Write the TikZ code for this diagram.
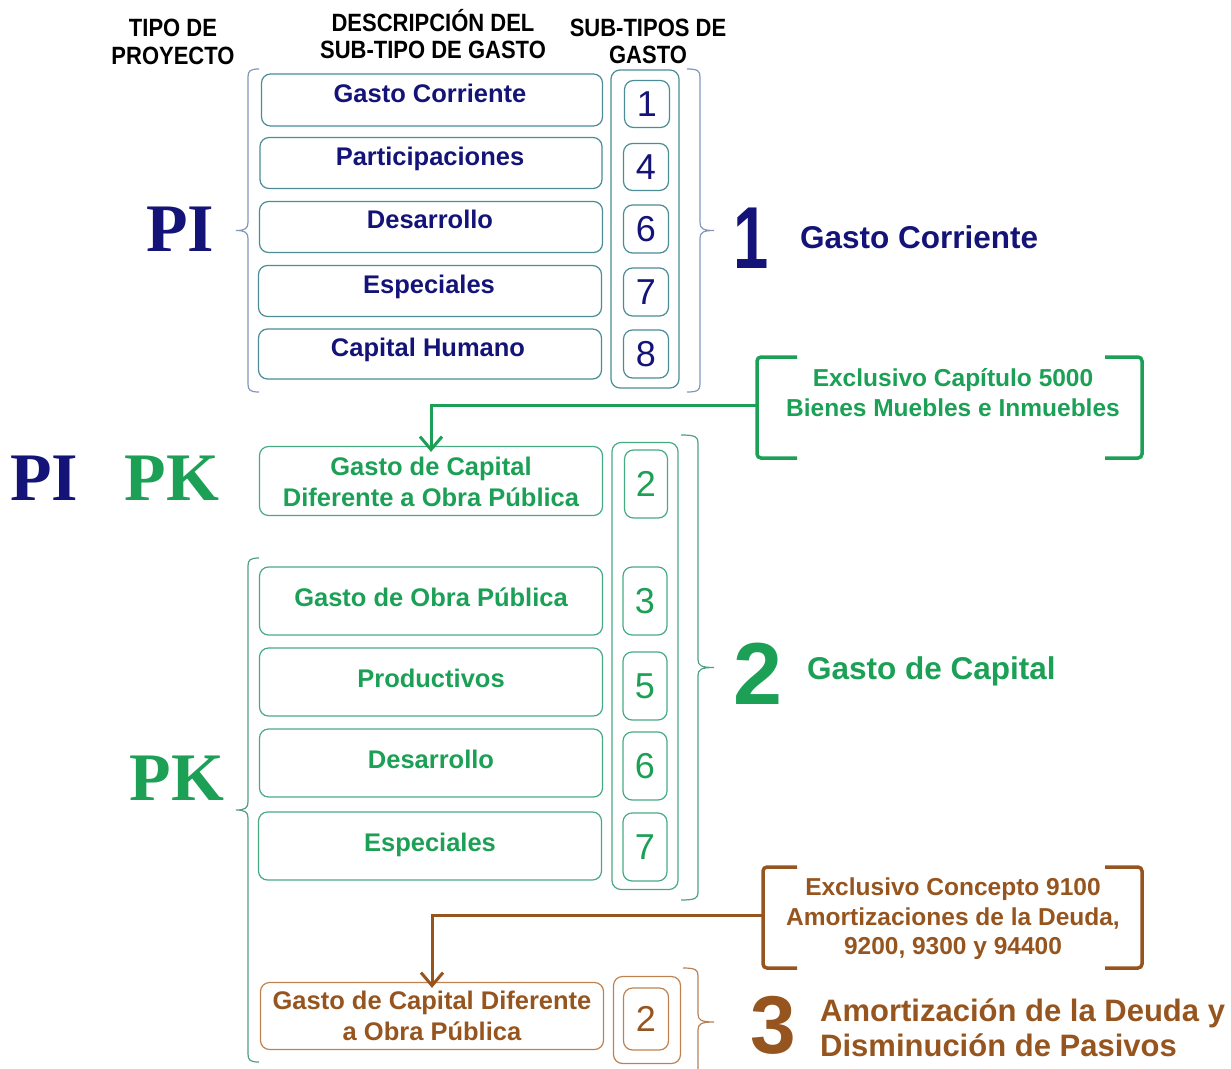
\documentclass[tikz,border=0pt]{standalone}
\usepackage{fontspec}
\setmainfont{Liberation Sans}
\newfontfamily\serifb{Liberation Serif}
\newfontfamily\hdrfam[FakeStretch=0.88]{Liberation Sans}
\newfontfamily\onefam[FakeStretch=0.72]{Liberation Sans}
\usetikzlibrary{decorations.pathreplacing,arrows.meta}
\definecolor{navy}{RGB}{20,20,120}
\definecolor{gr}{RGB}{27,160,86}
\definecolor{br}{RGB}{150,85,30}
\definecolor{tealb}{RGB}{75,140,150}
\definecolor{pibr}{RGB}{130,150,190}
\definecolor{grb}{RGB}{70,170,130}
\definecolor{grbr}{RGB}{80,160,130}
\definecolor{brb}{RGB}{190,130,80}
\definecolor{brbr}{RGB}{180,130,90}
% left-pointing brace: colour, hook x, line x, tip x, top y, bottom y
\newcommand\mybraceL[6]{%
 \draw[#1, line width=1.2pt] (#2,#5) .. controls ({#3+2},#5) and (#3,{#5+2}) .. (#3,{#5+8})
   -- (#3,{(#5+#6)/2-8}) .. controls (#3,{(#5+#6)/2-2}) and ({#3-3},{(#5+#6)/2}) .. (#4,{(#5+#6)/2})
   .. controls ({#3-3},{(#5+#6)/2}) and (#3,{(#5+#6)/2+2}) .. (#3,{(#5+#6)/2+8})
   -- (#3,{#6-8}) .. controls (#3,{#6-2}) and ({#3+2},#6) .. (#2,#6);}
% right-pointing brace
\newcommand\mybraceR[6]{%
 \draw[#1, line width=1.2pt] (#2,#5) .. controls ({#3-2},#5) and (#3,{#5+2}) .. (#3,{#5+8})
   -- (#3,{(#5+#6)/2-8}) .. controls (#3,{(#5+#6)/2-2}) and ({#3+3},{(#5+#6)/2}) .. (#4,{(#5+#6)/2})
   .. controls ({#3+3},{(#5+#6)/2}) and (#3,{(#5+#6)/2+2}) .. (#3,{(#5+#6)/2+8})
   -- (#3,{#6-8}) .. controls (#3,{#6-2}) and ({#3-2},#6) .. (#2,#6);}
\begin{document}
\begin{tikzpicture}[x=1pt,y=-1pt,
  box/.style={draw=#1, rounded corners=9pt, line width=1.2pt, inner sep=0pt},
  hdr/.style={inner sep=0pt, text height=18pt, text depth=0pt, font=\hdrfam\bfseries\fontsize{25}{30}\selectfont},
  bt/.style={inner sep=0pt, text height=18.3pt, text depth=0pt, font=\bfseries\fontsize{25.5}{30}\selectfont},
  num/.style={inner sep=0pt, text height=25.8pt, text depth=0pt, font=\fontsize{36}{40}\selectfont},
  big/.style={inner sep=0pt, text height=63pt, text depth=0pt, font=\bfseries\fontsize{88}{90}\selectfont},
  side/.style={inner sep=0pt, text height=22.5pt, text depth=0pt, anchor=west, font=\bfseries\fontsize{31.5}{36}\selectfont},
  ct/.style={inner sep=0pt, text height=17.5pt, text depth=0pt, font=\bfseries\fontsize{24.5}{28}\selectfont},
  ser/.style={inner sep=0pt, text height=45pt, text depth=0pt, font=\serifb\bfseries\fontsize{68}{70}\selectfont},
  callb/.style={draw=#1, line width=3.5pt, rounded corners=4pt},
  arr/.style={draw=#1, line width=3pt, -{Straight Barb[length=13pt,width=22pt,line width=3pt]}},
]
\useasboundingbox (0,0) rectangle (1231,1068);

% headers
\node[hdr] (h1a) at (173,27) {TIPO DE};
\node[hdr] (h1b) at (173,55) {PROYECTO};
\node[hdr] (h2a) at (433,22) {DESCRIPCIÓN DEL};
\node[hdr] (h2b) at (433,49) {SUB-TIPO DE GASTO};
\node[hdr] (h3a) at (648,27) {SUB-TIPOS DE};
\node[hdr] (h3b) at (648,54) {GASTO};

% ---------- PI section ----------
\node[ser, text=navy] (pi1) at (180,229) {PI};
\mybraceL{pibr}{259}{248}{236}{69}{392}
\mybraceR{pibr}{687}{700}{714}{69}{392}

\node[box=tealb, minimum width=341pt, minimum height=52pt] (pb1) at (432,100) {};
\node[box=tealb, minimum width=342pt, minimum height=51pt] (pb2) at (431,163) {};
\node[box=tealb, minimum width=343pt, minimum height=51pt] (pb3) at (431,227) {};
\node[box=tealb, minimum width=343pt, minimum height=51pt] (pb4) at (430,291) {};
\node[box=tealb, minimum width=343pt, minimum height=50pt] (pb5) at (430,354) {};
\node[bt, text=navy] (pt1) at (430,93) {Gasto Corriente};
\node[bt, text=navy] (pt2) at (430,156) {Participaciones};
\node[bt, text=navy] (pt3) at (430,219) {Desarrollo};
\node[bt, text=navy] (pt4) at (429,284) {Especiales};
\node[bt, text=navy] (pt5) at (428,347) {Capital Humano};

\node[box=tealb, minimum width=68pt, minimum height=318pt] (pcol) at (645,229) {};
\node[box=tealb, minimum width=45pt, minimum height=47pt, num, text=navy] (pn1) at (647,104) {1};
\node[box=tealb, minimum width=45pt, minimum height=47pt, num, text=navy] (pn4) at (646,167) {4};
\node[box=tealb, minimum width=45pt, minimum height=48pt, num, text=navy] (pn6) at (646,229) {6};
\node[box=tealb, minimum width=45pt, minimum height=48pt, num, text=navy] (pn7) at (646,292) {7};
\node[box=tealb, minimum width=45pt, minimum height=48pt, num, text=navy] (pn8) at (646,354) {8};

\node[big, text=navy, font=\onefam\bfseries\fontsize{88}{90}\selectfont] (b1) at (751,237) {1};
\node[side, text=navy] (s1) at (800,237) {Gasto Corriente};

% ---------- green callout ----------
\draw[callb=gr] (797,357) -- (757,357) -- (757,458) -- (797,458);
\draw[callb=gr] (1105,357) -- (1142,357) -- (1142,458) -- (1105,458);
\node[ct, text=gr] (gc1) at (953,378) {Exclusivo Capítulo 5000};
\node[ct, text=gr] (gc2) at (953,408) {Bienes Muebles e Inmuebles};
\coordinate (gca) at (757,405);

% ---------- PK section ----------
\node[ser, text=navy] (pi2) at (44,478) {PI};
\node[ser, text=gr] (pk1) at (172,478) {PK};
\node[ser, text=gr] (pk2) at (177,778) {PK};

\node[box=grb, minimum width=343pt, minimum height=69pt] (gb0) at (431,481) {};
\node[bt, text=gr] (gt0a) at (431,466) {Gasto de Capital};
\node[bt, text=gr] (gt0b) at (431,497) {Diferente a Obra Pública};
\draw[arr=gr] (gca) -| ([yshift=-6pt]gb0.north);

\mybraceL{grbr}{259}{248}{236}{558}{1062}
\mybraceR{grbr}{681}{698}{714}{435}{900}

\node[box=grb, minimum width=343pt, minimum height=68pt] (gb1) at (431,601) {};
\node[box=grb, minimum width=343pt, minimum height=68pt] (gb2) at (431,682) {};
\node[box=grb, minimum width=343pt, minimum height=68pt] (gb3) at (431,763) {};
\node[box=grb, minimum width=343pt, minimum height=68pt] (gb4) at (430,846) {};
\node[bt, text=gr] (gt1) at (431,597) {Gasto de Obra Pública};
\node[bt, text=gr] (gt2) at (431,678) {Productivos};
\node[bt, text=gr] (gt3) at (431,759) {Desarrollo};
\node[bt, text=gr] (gt4) at (430,842) {Especiales};

\node[box=grb, minimum width=66pt, minimum height=447pt] (gcol) at (645,666) {};
\node[box=grb, minimum width=43pt, minimum height=68pt, num, text=gr] (gn2) at (646,484) {2};
\node[box=grb, minimum width=44pt, minimum height=68pt, num, text=gr] (gn3) at (645,601) {3};
\node[box=grb, minimum width=44pt, minimum height=68pt, num, text=gr] (gn5) at (645,686) {5};
\node[box=grb, minimum width=44pt, minimum height=68pt, num, text=gr] (gn6) at (645,766) {6};
\node[box=grb, minimum width=44pt, minimum height=68pt, num, text=gr] (gn7) at (645,847) {7};

\node[big, text=gr] (b2) at (758,673) {2};
\node[side, text=gr] (s2) at (807,668) {Gasto de Capital};

% ---------- brown callout ----------
\draw[callb=br] (797,867) -- (763,867) -- (763,968) -- (797,968);
\draw[callb=br] (1105,867) -- (1142,867) -- (1142,968) -- (1105,968);
\node[ct, text=br] (bc1) at (953,887) {Exclusivo Concepto 9100};
\node[ct, text=br] (bc2) at (953,917) {Amortizaciones de la Deuda,};
\node[ct, text=br] (bc3) at (953,946) {9200, 9300 y 94400};
\coordinate (bca) at (763,915);

\node[box=brb, minimum width=343pt, minimum height=67pt] (bb0) at (432,1016) {};
\node[bt, text=br] (bt0a) at (432,1000) {Gasto de Capital Diferente};
\node[bt, text=br] (bt0b) at (432,1031) {a Obra Pública};
\draw[arr=br] (bca) -| ([yshift=-6pt]bb0.north);

\node[box=brb, minimum width=67pt, minimum height=87pt] (bcol) at (647,1020) {};
\node[box=brb, minimum width=45pt, minimum height=62pt, num, text=br] (bn2) at (646,1019) {2};
\mybraceR{brbr}{683}{698}{714}{968}{1076}

\node[big, text=br, text height=59pt, font=\bfseries\fontsize{82}{90}\selectfont] (b3) at (773,1024) {3};
\node[side, text=br, font=\bfseries\fontsize{31}{36}\selectfont] (s3a) at (820,1010) {Amortización de la Deuda y};
\node[side, text=br, font=\bfseries\fontsize{31}{36}\selectfont] (s3b) at (820,1045) {Disminución de Pasivos};
\end{tikzpicture}
\end{document}
